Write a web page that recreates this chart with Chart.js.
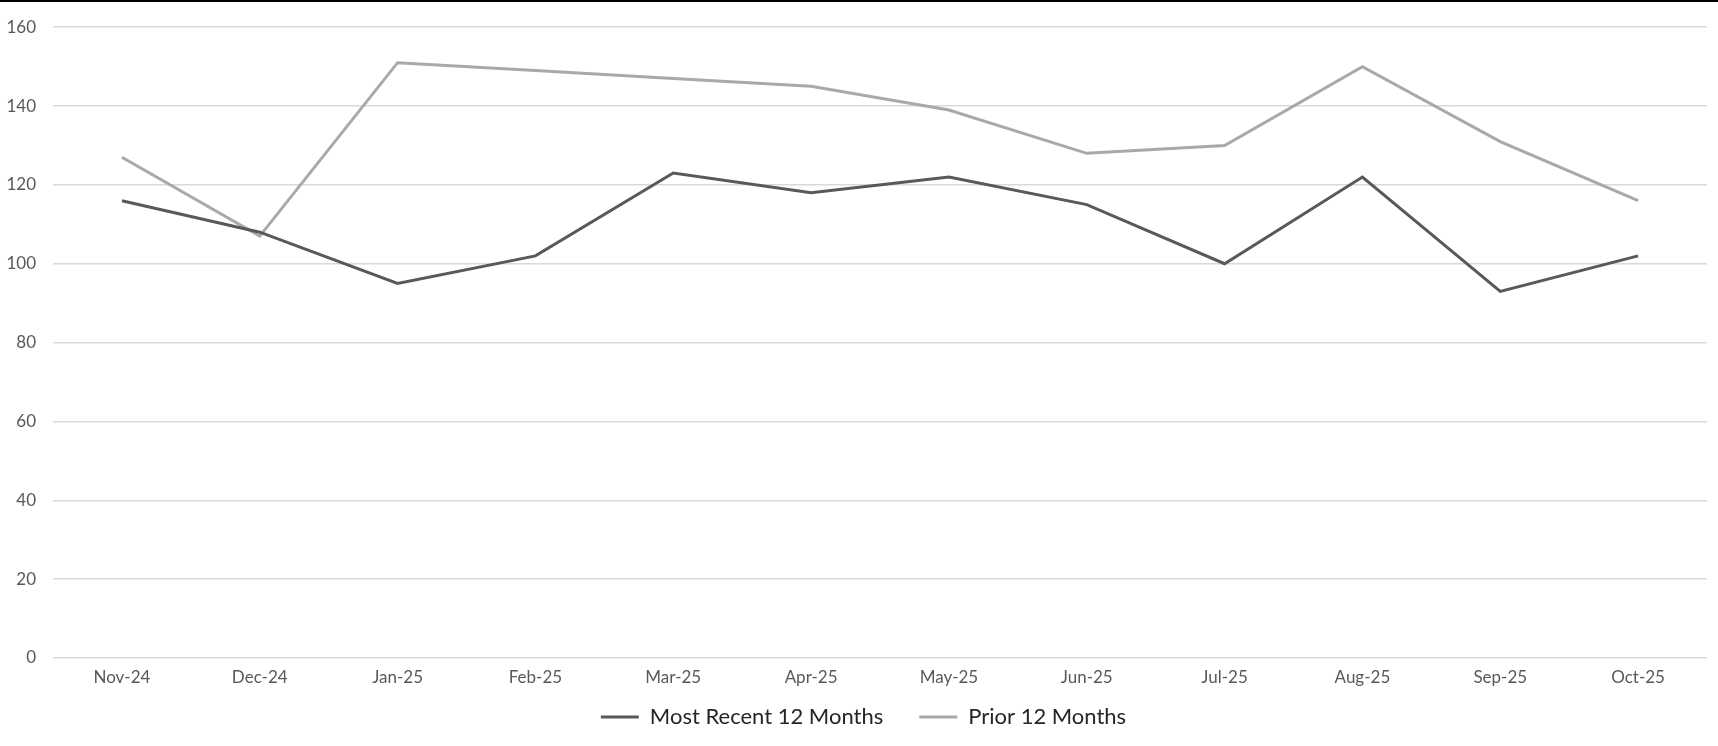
<!DOCTYPE html>
<html lang="en">
<head>
    <meta charset="UTF-8">
    <title>Most Recent vs Prior 12 Months</title>
    <script src="https://cdn.jsdelivr.net/npm/chart.js"></script>
    <style>
        body {
    margin: 0;
    background-color: #fff;
    font-family: Lato, sans-serif;
}

#chart-container {
    position: relative;
    width: 1718px;
    height: 746px;
}

#top-rule {
    position: absolute;
    left: 0;
    top: 0;
    width: 100%;
    height: 2px;
    background-color: #000;
}
    </style>
</head>
<body>

<div id="chart-container">
    <canvas id="trendChart"></canvas>
    <div id="top-rule"></div>
</div>

<script>
    var months = ["Nov-24", "Dec-24", "Jan-25", "Feb-25", "Mar-25", "Apr-25",
                  "May-25", "Jun-25", "Jul-25", "Aug-25", "Sep-25", "Oct-25"];
    var mostRecent = [116, 108, 95, 102, 123, 118, 122, 115, 100, 122, 93, 102];
    var prior = [127, 107, 151, 149, 147, 145, 139, 128, 130, 150, 131, 116];
    var yTicks = [0, 20, 40, 60, 80, 100, 120, 140, 160];

    // move the legend to where it sits in the original (just under the labels)
    var legendShift = {
        id: 'legendShift',
        afterLayout: function(chart) {
            var lg = chart.legend;
            lg.left += 10;
            lg.right += 10;
            lg.top -= 20;
            lg.bottom -= 20;
        }
    };

    var ctx = document.getElementById('trendChart').getContext('2d');
    var trendChart = new Chart(ctx, {
        type: 'line',
        data: {
            labels: months,
            datasets: [{
                label: 'Most Recent 12 Months',
                data: mostRecent,
                borderColor: '#595959',
                backgroundColor: '#595959',
                borderWidth: 3,
                pointRadius: 0,
                tension: 0
            }, {
                label: 'Prior 12 Months',
                data: prior,
                borderColor: '#a9a9a9',
                backgroundColor: '#a9a9a9',
                borderWidth: 3,
                pointRadius: 0,
                tension: 0
            }]
        },
        options: {
            responsive: true,
            maintainAspectRatio: false,
            animation: false,
            layout: {
                padding: { top: 25, left: 0, right: 11, bottom: -12 }
            },
            plugins: {
                tooltip: { enabled: false },
                legend: {
                    position: 'bottom',
                    labels: {
                        usePointStyle: true,
                        pointStyle: 'line',
                        pointStyleWidth: 38,
                        padding: 36,
                        color: '#262626',
                        font: { family: 'Lato', size: 22 }
                    }
                }
            },
            scales: {
                x: {
                    offset: true,
                    grid: { display: false, drawTicks: false },
                    border: { display: false },
                    ticks: {
                        padding: 9,
                        color: '#595959',
                        maxRotation: 0,
                        font: { family: 'Lato', size: 17 }
                    },
                    afterFit: function(scale) { scale.height = 32; }
                },
                y: {
                    min: 0,
                    max: 160,
                    afterBuildTicks: function(scale) {
                        scale.ticks = yTicks.map(function(v) { return { value: v }; });
                    },
                    grid: {
                        color: '#d9d9d9',
                        lineWidth: 1.5,
                        drawTicks: false
                    },
                    border: { display: false },
                    ticks: {
                        padding: 17,
                        color: '#595959',
                        font: { family: 'Lato', size: 17 }
                    },
                    afterFit: function(scale) { scale.width = 53; }
                }
            }
        },
        plugins: [legendShift]
    });
</script>

</body>
</html>
